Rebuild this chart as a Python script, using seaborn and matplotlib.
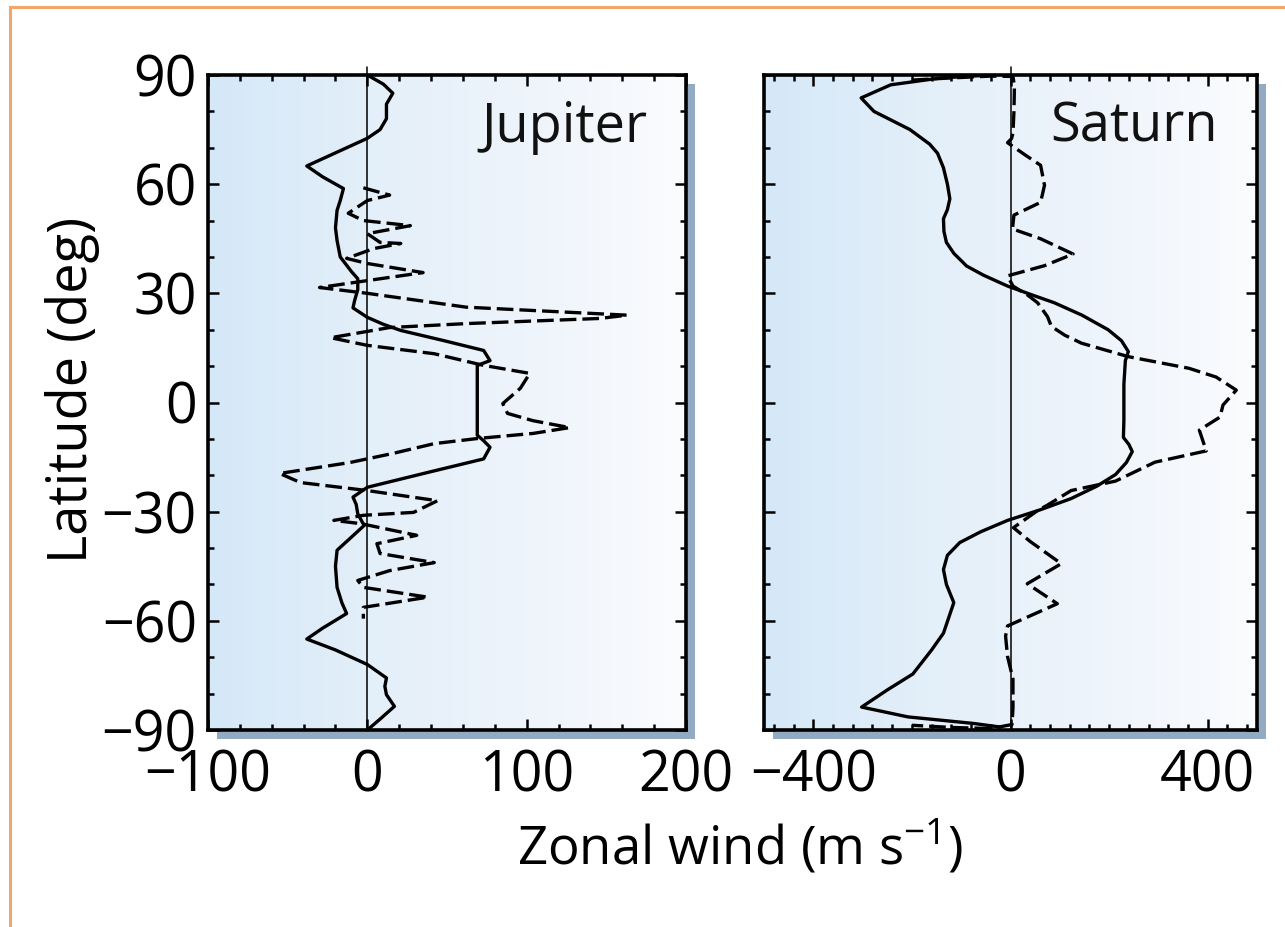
import numpy as np
import pandas as pd
import matplotlib
matplotlib.use("Agg")
import matplotlib.pyplot as plt
import seaborn as sns
from matplotlib.colors import LinearSegmentedColormap
from matplotlib.patches import Rectangle
from matplotlib.ticker import MultipleLocator

# ---- Jupiter zonal wind profiles (m/s vs latitude) ----
jup_solid_lat = [90, 87.5, 85, 82, 78, 75, 72.6, 69, 65, 62, 58.8, 55.5, 52.8, 48, 44.5,
                 40, 36, 34, 31, 28, 26, 23.4, 21.5, 19.8, 17, 14.3, 11.5, 10.2, 5, 0,
                 -5, -9, -10.5, -12.3, -15.5, -19, -23.3, -26, -28, -30.6, -33.8, -37,
                 -40.6, -45, -50.8, -55, -58, -62, -65, -68, -72, -75.7, -78, -80.3,
                 -83.5, -87, -90]
jup_solid_u = [0, 10, 16, 12, 12, 8, 0, -18, -38, -28, -15, -17, -19, -20, -19,
               -17, -10, -6, -6, -8, -9, 0, 10, 21, 48, 73, 77, 69, 69, 69,
               69, 69, 73, 77, 73, 40, 0, -9, -7, -6, -2, -10,
               -19, -20, -19, -16, -13, -28, -38, -20, 0, 12, 11, 12,
               17, 8, 0]

jup_dash_lat = [59, 57, 55.5, 52, 50, 48.6, 46.4, 44, 43.7, 42.3, 39.6, 38.2, 35.7, 33.5,
                31.6, 30, 26.2, 24, 23.1, 21.7, 20.6, 17.8, 15.7, 13.4, 10.2, 8, 3.9,
                -0.3, -3, -5, -6.9, -8.5, -9.9, -11.3, -14, -16.5, -19.5, -22, -24.2,
                -27, -30.2, -31, -32.4, -33.3, -36.5, -38.8, -41.5, -44, -46.2, -48.9,
                -50.8, -53.5, -56.3, -59.4]
jup_dash_u = [-2.5, 14, 0, -12, -2.5, 27, 0, 8, 21, 4, -13, 0, 35, 0,
              -30, 0, 62, 163, 146, 63, 14, -23, 0, 42, 73, 102, 96,
              85, 88, 104, 127, 104, 69, 42, 16, -11, -55, -42, 0,
              44, 29, -2.5, -21, -4, 31, 6, 8, 42, 14, -6,
              -2.5, 38, -2.5, -2.5]

# ---- Saturn zonal wind profiles ----
sat_solid_lat = [90, 89.2, 87.3, 83.7, 80, 75, 71, 68.5, 64.5, 60, 56, 53, 50.5, 47, 44,
                 41, 37.5, 35, 32, 29.5, 27.4, 24, 20, 17, 14, 11.5, 5, 0, -5, -9.6,
                 -11.5, -13.5, -16.5, -19.8, -23, -26.4, -29.5, -32.4, -35.5, -38.5,
                 -42, -45.9, -50, -55, -59, -63.4, -68, -74.6, -79, -83.7, -86.4,
                 -88.2, -89.2]
sat_solid_u = [-40, -141, -243, -303, -277, -204, -164, -148, -136, -128, -123, -128, -136, -135, -130,
               -115, -89, -55, -6, 45, 89, 145, 198, 225, 239, 233, 230, 230, 230, 229,
               240, 247, 235, 213, 175, 123, 60, -6, -60, -103,
               -128, -136, -130, -115, -125, -136, -160, -198, -250, -302, -208,
               -75, -20]

sat_dash_lat = [88.6, 89.2, 89.7, 89.6, 87, 80, 74, 72.5, 71.4, 68, 65.2, 59.7, 55, 51.5,
                47.7, 45, 40.8, 37.6, 34.8, 32, 29.5, 27.4, 23.6, 20.9, 18.5, 16.3, 12.6,
                9.4, 7, 3.4, -0.7, -4, -7.6, -13.3, -16.4, -21.6, -24.2, -28.2, -29.7,
                -34.4, -38.2, -44.3, -49.8, -55.3, -61.4, -64.2, -69.8, -76, -84, -88.5,
                -89.6, -89.3, -88.7]
sat_dash_u = [-200, -120, -40, 5, 8, 7, 5, 2, -6, 30, 61, 69, 61, 7,
              4, 61, 127, 69, -6, 5, 35, 55, 75, 83, 110, 144, 239,
              362, 417, 458, 431, 425, 383, 397, 293, 213, 123, 75, 55,
              6, 40, 103, 34, 95, -6, -10, -6, 5, 5, 3,
              -40, -120, -200]

planet_names = ["Jupiter", "Saturn"]
x_limits = [(-100, 200), (-500, 500)]
x_major = [100, 400]
x_minor = [20, 40]
y_ticks = [-90, -60, -30, 0, 30, 60, 90]

sns.set_style("ticks")
plt.rcParams["font.family"] = ["Open Sans", "DejaVu Sans"]
plt.rcParams["mathtext.fontset"] = "custom"
plt.rcParams["mathtext.rm"] = "Open Sans"
plt.rcParams["mathtext.default"] = "regular"
plt.rcParams["text.color"] = "black"
plt.rcParams["xtick.color"] = "black"
plt.rcParams["ytick.color"] = "black"

W, H = 1285, 927
fig = plt.figure(figsize=(W / 100, H / 100), dpi=100)
fig.patch.set_facecolor("white")

# thin orange frame around the figure
fig.add_artist(Rectangle((10 / W, -0.05), 1.2, (H - 7) / H + 0.05,
                         transform=fig.transFigure, fill=False,
                         edgecolor="#f0a66c", lw=2.2, zorder=-5))

axes_px = [(208, 75, 686, 730), (764, 75, 1257, 730)]
shade = LinearSegmentedColormap.from_list(
    "panel", ["#d5e8f8", "#e3eff9", "#eef4fb", "#fbfcfe"])

profiles = [
    (jup_solid_lat, jup_solid_u, jup_dash_lat, jup_dash_u),
    (sat_solid_lat, sat_solid_u, sat_dash_lat, sat_dash_u),
]
line_kw = dict(color="black", lw=2.4, solid_joinstyle="round",
               solid_capstyle="round", dash_joinstyle="round")

for i, (x0, y0, x1, y1) in enumerate(axes_px):
    rect = [x0 / W, (H - y1) / H, (x1 - x0) / W, (y1 - y0) / H]
    # drop shadow behind the panel
    fig.add_artist(Rectangle((rect[0] + 9 / W, rect[1] - 9 / H), rect[2], rect[3],
                             transform=fig.transFigure, facecolor="#93aac3",
                             edgecolor="none", zorder=-2))
    ax = fig.add_axes(rect)
    xmin, xmax = x_limits[i]
    ax.imshow(np.linspace(0, 1, 256)[None, :], extent=[xmin, xmax, -90, 90],
              aspect="auto", cmap=shade, zorder=0, interpolation="bilinear")

    s_lat, s_u, d_lat, d_u = profiles[i]
    solid = pd.DataFrame({"u": s_u, "lat": s_lat})
    dashed = pd.DataFrame({"u": d_u, "lat": d_lat})
    sns.lineplot(data=solid, x="u", y="lat", sort=False, estimator=None,
                 ax=ax, zorder=3, **line_kw)
    sns.lineplot(data=dashed, x="u", y="lat", sort=False, estimator=None,
                 linestyle=(0, (5, 1.8)), ax=ax, zorder=3, **line_kw)
    ax.axvline(0, ymin=0, ymax=1.012, color="black", lw=1.1, clip_on=False, zorder=4)

    ax.set_xlim(xmin, xmax)
    ax.set_ylim(-90, 90)
    ax.xaxis.set_major_locator(MultipleLocator(x_major[i]))
    ax.xaxis.set_minor_locator(MultipleLocator(x_minor[i]))
    ax.set_yticks(y_ticks)
    ax.yaxis.set_minor_locator(MultipleLocator(10))
    ax.tick_params(which="both", direction="in", top=True, right=True,
                   width=1.8, colors="black")
    ax.tick_params(which="major", length=8, labelsize=40)
    ax.tick_params(axis="y", which="major", pad=8)
    ax.tick_params(axis="x", which="major", pad=13)
    ax.tick_params(which="minor", length=4)
    if i == 1:
        ax.tick_params(axis="y", labelleft=False)
    for sp in ax.spines.values():
        sp.set_linewidth(2.6)
        sp.set_color("black")
        sp.set_zorder(5)
    ax.set_xlabel("")
    ax.set_ylabel("")
    ax.text(0.92, 0.92, planet_names[i], transform=ax.transAxes, ha="right",
            va="center", fontsize=39, color="#111111", zorder=6)

fig.text(73 / W, 1 - 390 / H, "Latitude (deg)", rotation=90, ha="center",
         va="center", fontsize=39)
fig.text(740 / W, 1 - 848 / H, "Zonal wind (m s$^{-1}$)", ha="center",
         va="center", fontsize=38)

fig.savefig("out.png", dpi=100)
